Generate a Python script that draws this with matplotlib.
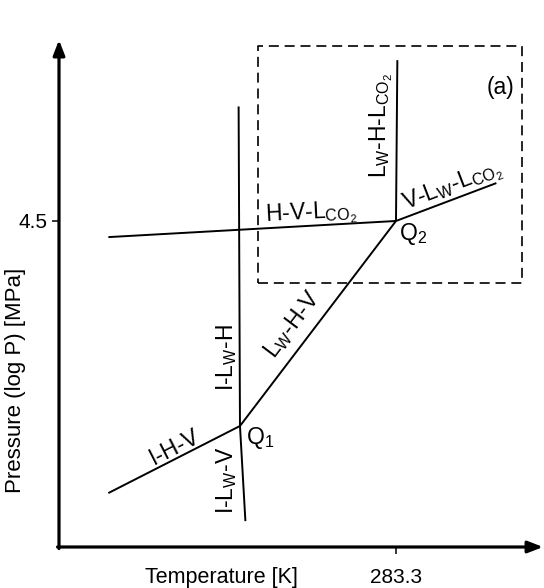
import matplotlib
matplotlib.use("Agg")
import matplotlib.pyplot as plt

plt.rcParams['font.family'] = ['Liberation Sans', 'DejaVu Sans']
plt.rcParams['mathtext.fontset'] = 'custom'
plt.rcParams['mathtext.rm'] = 'Liberation Sans'

# quadruple points Q1, Q2 (temperature in K, pressure in MPa)
q_temp = [271.8, 283.3]
q_pres = [1.04, 4.5]

# three-phase boundaries, each from a quadruple point outwards
ihv_temp, ihv_pres = [262.1, 271.8], [0.644, 1.04]
ilwv_temp, ilwv_pres = [271.8, 272.2], [1.04, 0.527]
ilwh_temp, ilwh_pres = [271.8, 271.7], [1.04, 10.2]
lwhv_temp, lwhv_pres = [271.8, 283.3], [1.04, 4.5]
hvl_temp, hvl_pres = [262.1, 283.3], [4.01, 4.5]
lwhl_temp, lwhl_pres = [283.3, 283.4], [4.5, 14.2]
vlwl_temp, vlwl_pres = [283.3, 290.7], [4.5, 5.90]

# zoomed region (a)
box_temp = [273.1, 292.6]
box_pres = [2.89, 15.7]

xticks = [283.3]
xtick_labels = ["283.3"]
yticks = [4.5]
ytick_labels = ["4.5"]

W, H = 544, 588
fig = plt.figure(figsize=(W / 100, H / 100), dpi=100)
ax = fig.add_axes([59 / W, 41 / H, 485 / W, 507 / H])
ax.set_yscale("log")
ax.set_xlim(258.46, 294.21)
ax.set_ylim(0.438, 16.4)

for s in ax.spines.values():
    s.set_visible(False)
ax.minorticks_off()

lw = 1.4
for t, p in [(ihv_temp, ihv_pres), (ilwv_temp, ilwv_pres), (ilwh_temp, ilwh_pres),
             (lwhv_temp, lwhv_pres), (hvl_temp, hvl_pres), (lwhl_temp, lwhl_pres),
             (vlwl_temp, vlwl_pres)]:
    ax.plot(t, p, color="black", lw=lw, solid_capstyle="butt")

bx = [box_temp[0], box_temp[1], box_temp[1], box_temp[0], box_temp[0]]
by = [box_pres[0], box_pres[0], box_pres[1], box_pres[1], box_pres[0]]
ax.plot(bx, by, color="black", lw=1.2, dashes=(6, 3.5))

# axes drawn as arrows
arrow = dict(arrowstyle="-|>,head_length=0.9,head_width=0.35", lw=2.3,
             color="black", shrinkA=0, shrinkB=0)
ax.annotate("", xy=(0, 1), xytext=(0, -0.003), xycoords="axes fraction",
            arrowprops=arrow, annotation_clip=False)
ax.annotate("", xy=(0.998, 0), xytext=(-0.003, 0), xycoords="axes fraction",
            arrowprops=arrow, annotation_clip=False)

ax.set_xticks(xticks)
ax.set_xticklabels(xtick_labels)
ax.set_yticks(yticks)
ax.set_yticklabels(ytick_labels)
ax.tick_params(axis="both", length=5, width=1.1, labelsize=15)
ax.tick_params(axis="x", pad=10)
ax.tick_params(axis="y", pad=3)

fig.text(221 / W, 1 - 577 / H, "Temperature [K]", ha="center", va="center", fontsize=15.5)
fig.text(16 / W, 1 - 380 / H, "Pressure (log P) [MPa]", ha="center", va="center",
         rotation=90, fontsize=16)

fs = 16.5
LW = r"L$_\mathregular{W}$"
LCO2 = r"L$_\mathregular{CO_2}$"
labels = [
    (290.97, 11.64, "(a)", 0),
    (282.19, 8.93, LW + "-H-" + LCO2, 90),
    (287.50, 5.74, "V-" + LW + "-" + LCO2, 21),
    (277.03, 4.73, "H-V-" + LCO2, 3),
    (270.84, 1.69, "I-" + LW + "-H", 90),
    (275.63, 2.14, LW + "-H-V", 53),
    (267.01, 0.895, "I-H-V", 27),
    (270.84, 0.707, "I-" + LW + "-V", 90),
]
for x, y, s, r in labels:
    ax.text(x, y, s, ha="center", va="center", rotation=r,
            rotation_mode="anchor", fontsize=fs)

ax.text(283.52, 4.10, r"Q$_\mathregular{2}$", ha="left", va="center", fontsize=fs)
ax.text(272.24, 0.954, r"Q$_\mathregular{1}$", ha="left", va="center", fontsize=fs)

fig.savefig("out.png", dpi=100)
